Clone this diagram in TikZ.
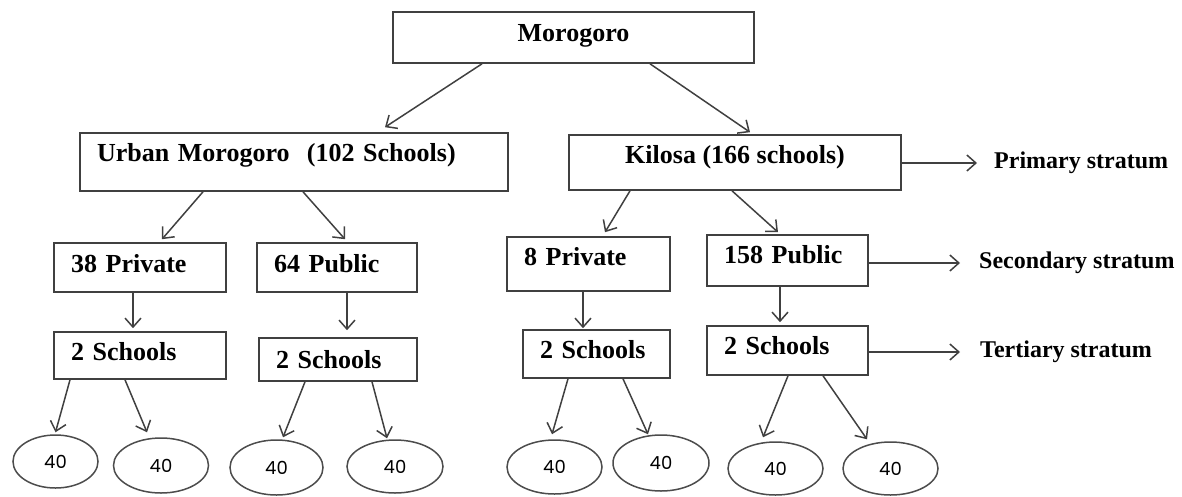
\documentclass[tikz,border=0pt]{standalone}
\usepackage{fontspec}
\setmainfont{Liberation Serif}
\newfontfamily\leaffont{Poppins}
\usetikzlibrary{shapes.geometric, arrows.meta}

\begin{document}
\begin{tikzpicture}[
  x=1pt, y=-1pt,
  box/.style={rectangle, draw=black!75, line width=1.6pt, align=left,
              inner xsep=17pt, inner ysep=0pt, text height=17pt, text depth=7pt,
              font=\fontsize{26}{30}\selectfont\bfseries},
  cbox/.style={box, align=center, inner xsep=0pt},
  leaf/.style={ellipse, draw=black!70, line width=1.5pt, inner sep=0pt,
              minimum width=95pt, minimum height=54pt,
              font=\leaffont\fontsize{18}{22}\selectfont},
  tag/.style={anchor=west, inner sep=0pt,
              font=\fontsize{24}{28}\selectfont\bfseries},
  arr/.style={-{Straight Barb[length=9pt, width=16pt]}, line width=1.5pt, draw=black!75}
]
\useasboundingbox (0,0) rectangle (1182,496);

\node[cbox, minimum width=361pt, minimum height=51pt, text depth=9pt] (moro) at (573.5,37.5) {Morogoro};
\node[box, text width=394pt, minimum height=58pt, text depth=18pt] (urban) at (294,162) {Urban Morogoro~~(102 Schools)};
\node[cbox, minimum width=332pt, minimum height=55pt, text depth=15pt] (kil) at (735,162.5) {Kilosa (166 schools)};

\node[box, text width=138pt, minimum height=49pt] (priv1) at (140,267.5) {38 Private};
\node[box, text width=126pt, minimum height=49pt] (pub1)  at (337,267.5) {64 Public};
\node[box, text width=129pt, minimum height=54pt, text depth=14pt] (priv2) at (588.5,264) {8 Private};
\node[box, text width=127pt, minimum height=51pt, text depth=11pt] (pub2)  at (787.5,260.5) {158 Public};

\node[box, text width=138pt, minimum height=47pt] (sch1) at (140,355.5) {2 Schools};
\node[box, text width=124pt, minimum height=43pt, text depth=0pt] (sch2) at (338,359.5) {2 Schools};
\node[box, text width=113pt, minimum height=48pt, text depth=8pt] (sch3) at (596.5,354) {2 Schools};
\node[box, text width=127pt, minimum height=49pt, text depth=9pt] (sch4) at (787.5,350.5) {2 Schools};

\node[leaf, minimum width=85pt, minimum height=53pt] (e1) at (55.5,461.5) {40};
\node[leaf, minimum height=55pt] (e2) at (161,465.5) {40};
\node[leaf, minimum width=93pt, minimum height=55pt] (e3) at (276.5,467.5) {40};
\node[leaf, minimum width=96pt, minimum height=53pt] (e4) at (395,466.5) {40};
\node[leaf] (e5) at (554.5,467) {40};
\node[leaf, minimum width=96pt, minimum height=56pt] (e6) at (661,463) {40};
\node[leaf, minimum height=53pt] (e7) at (775.5,468.5) {40};
\node[leaf, minimum height=53pt] (e8) at (890.5,468.5) {40};

\node[tag] (prim) at (994,163) {Primary stratum};
\node[tag] (sec)  at (979,263) {Secondary stratum};
\node[tag] (ter)  at (980,352) {Tertiary stratum};

\draw[arr] ([xshift=-91.5pt]moro.south) -- ([xshift=91pt, yshift=5pt]urban.north);
\draw[arr] ([xshift=76.5pt]moro.south)  -- ([xshift=15pt, yshift=2pt]kil.north);
\draw[arr] ([xshift=-91pt]urban.south)  -- ([xshift=22pt, yshift=3pt]priv1.north);
\draw[arr] ([xshift=9pt]urban.south)    -- ([xshift=8pt, yshift=3pt]pub1.north);
\draw[arr] ([xshift=-105pt]kil.south)   -- ([xshift=16.5pt, yshift=4pt]priv2.north);
\draw[arr] ([xshift=-3pt]kil.south)     -- ([xshift=-9.5pt, yshift=2pt]pub2.north);

\draw[arr] ([xshift=-7pt]priv1.south)   -- ([xshift=-7pt, yshift=3pt]sch1.north);
\draw[arr] ([xshift=10pt]pub1.south)    -- ([xshift=9pt, yshift=7pt]sch2.north);
\draw[arr] ([xshift=-5.5pt]priv2.south) -- ([xshift=-13.5pt, yshift=1pt]sch3.north);
\draw[arr] ([xshift=-7.5pt]pub2.south)  -- ([xshift=-7.5pt, yshift=3pt]sch4.north);

\draw[arr] ([xshift=-70pt]sch1.south)   -- ([yshift=2pt]e1.north);
\draw[arr] ([xshift=-15pt]sch1.south)   -- ([xshift=-14pt, yshift=5pt]e2.north);
\draw[arr] ([xshift=-33pt]sch2.south)   -- ([xshift=6.5pt, yshift=2pt]e3.north);
\draw[arr] ([xshift=34pt]sch2.south)    -- ([xshift=-8pt, yshift=1pt]e4.north);
\draw[arr] ([xshift=-28.5pt]sch3.south) -- ([xshift=-2.5pt, yshift=5pt]e5.north);
\draw[arr] ([xshift=26.5pt]sch3.south)  -- ([xshift=-13pt]e6.north);
\draw[arr] ([xshift=0.5pt]sch4.south)   -- ([xshift=-12.5pt, yshift=4pt]e7.north);
\draw[arr] ([xshift=35.5pt]sch4.south)  -- ([xshift=-23.5pt, yshift=2pt]e8.north);

\draw[arr, shorten >=17pt] (kil.east |- prim.west)  -- (prim.west);
\draw[arr, shorten >=19pt] (pub2.east |- sec.west)  -- (sec.west);
\draw[arr, shorten >=20pt] (sch4.east |- ter.west)  -- (ter.west);
\end{tikzpicture}
\end{document}
